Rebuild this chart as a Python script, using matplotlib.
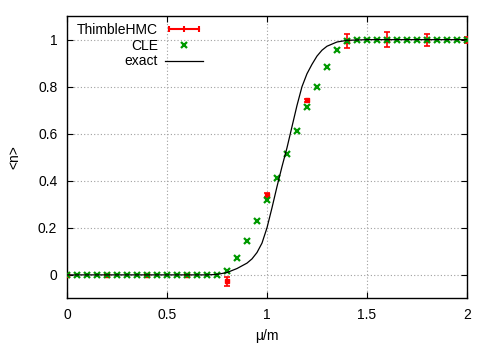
import numpy as np
import matplotlib
matplotlib.use('Agg')
import matplotlib.pyplot as plt
from matplotlib.lines import Line2D
from matplotlib.legend_handler import HandlerLine2D

plt.rcParams['font.family'] = ['Liberation Sans', 'DejaVu Sans']

# ThimbleHMC data (mu/m, <n>, error)
hmc_mu = [0.0, 0.2, 0.4, 0.6, 0.8, 1.0, 1.2, 1.4, 1.6, 1.8, 2.0]
hmc_n = [0.0, 0.0, 0.0, 0.0, -0.028, 0.34, 0.742, 0.993, 1.0, 1.0, 1.0]
hmc_err = [0.003, 0.003, 0.003, 0.003, 0.021, 0.008, 0.006, 0.03, 0.031, 0.026, 0.013]

# CLE data
cle_mu = [0.0, 0.05, 0.1, 0.15, 0.2, 0.25, 0.3, 0.35, 0.4, 0.45, 0.5, 0.55, 0.6, 0.65,
          0.7, 0.75, 0.8, 0.85, 0.9, 0.95, 1.0, 1.05, 1.1, 1.15, 1.2, 1.25, 1.3, 1.35,
          1.4, 1.45, 1.5, 1.55, 1.6, 1.65, 1.7, 1.75, 1.8, 1.85, 1.9, 1.95, 2.0]
cle_n = [0.0, 0.0, 0.0, 0.0, 0.0, 0.0, 0.0, 0.0, 0.0, 0.0, 0.0, 0.0, 0.0, 0.0,
         0.0, 0.0, 0.018, 0.071, 0.145, 0.228, 0.319, 0.41, 0.515, 0.61, 0.712, 0.80,
         0.884, 0.956, 0.993, 1.0, 1.0, 1.0, 1.0, 1.0, 1.0, 1.0, 1.0, 1.0, 1.0, 1.0, 1.0]

# exact curve
exact_mu = [0.0, 0.7, 0.75, 0.8, 0.85, 0.9, 0.925, 0.95, 0.975, 1.0, 1.025, 1.05, 1.075,
            1.1, 1.125, 1.15, 1.175, 1.2, 1.225, 1.25, 1.275, 1.3, 1.35, 1.4, 1.5, 2.0]
exact_n = [0.0, 0.0, 0.002, 0.01, 0.027, 0.05, 0.068, 0.095, 0.135, 0.2, 0.285, 0.375, 0.46,
           0.54, 0.63, 0.72, 0.8, 0.855, 0.895, 0.93, 0.955, 0.972, 0.99, 0.997, 1.0, 1.0]

red = '#ff0000'
green = '#009900'

fig = plt.figure(figsize=(4.91, 3.43), dpi=100)
ax = fig.add_axes([0.1365, 0.130, 0.8145, 0.823])

ax.errorbar(hmc_mu, hmc_n, yerr=hmc_err, fmt='s', color=red, ms=3.2,
            elinewidth=1.2, capsize=2.5, capthick=1.2, zorder=3)
ax.plot(cle_mu, cle_n, 'x', color=green, ms=3.8, mew=1.6, zorder=4)
ax.plot(exact_mu, exact_n, '-', color='black', lw=0.9, zorder=5)

ax.set_xlim(0, 2)
ax.set_ylim(-0.1, 1.1)
ax.set_xticks([0, 0.5, 1, 1.5, 2])
ax.set_xticklabels(['0', '0.5', '1', '1.5', '2'])
ax.set_yticks([0, 0.2, 0.4, 0.6, 0.8, 1])
ax.set_yticklabels(['0', '0.2', '0.4', '0.6', '0.8', '1'])
ax.tick_params(direction='in', length=4, width=0.8, top=True, right=True,
               labelsize=10, pad=7, colors='black')
ax.grid(True, color='#a0a0a0', linestyle=(0, (1, 2)), linewidth=0.8)
for s in ax.spines.values():
    s.set_linewidth(1.0)

ax.set_xlabel('μ/m', fontsize=10, labelpad=5)
ax.set_ylabel('<n>', fontsize=10, labelpad=12)

h_hmc = Line2D([], [], color=red, lw=1.5, marker='|', ms=4, mew=1.5)
h_cle = Line2D([], [], color=green, ls='none', marker='x', ms=3.8, mew=1.6)
h_ex = Line2D([], [], color='black', lw=0.9)
leg = ax.legend([h_hmc, h_cle, h_ex], ['ThimbleHMC', 'CLE', 'exact'],
                loc='upper left', bbox_to_anchor=(0.008, 1.0), frameon=False,
                markerfirst=False, fontsize=10, handlelength=2.75, labelspacing=0.12,
                borderaxespad=0.2, handletextpad=0.5, borderpad=0.3,
                handler_map={h_hmc: HandlerLine2D(numpoints=3)})

fig.savefig('out.png', dpi=100)
